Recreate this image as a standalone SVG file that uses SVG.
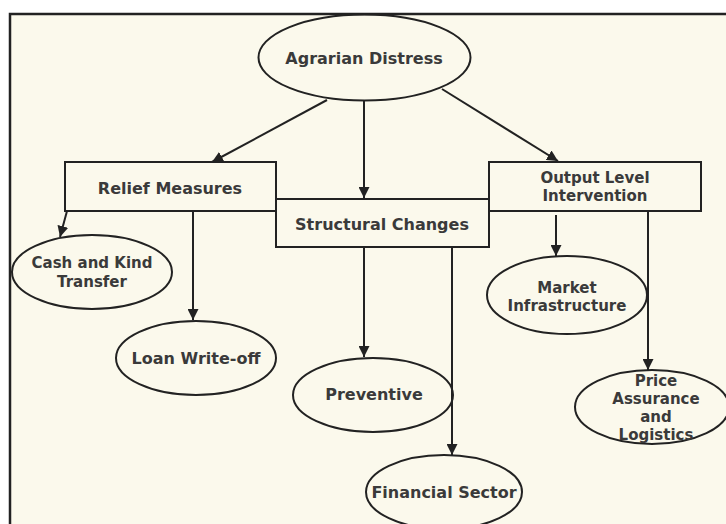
<svg xmlns="http://www.w3.org/2000/svg" width="726" height="524" viewBox="0 0 726 524">
<defs>
<style>
.shape{fill:none;stroke:#222;stroke-width:2}
.lbl{font-family:"DejaVu Sans","Liberation Sans",sans-serif;font-size:16px;fill:#3a3a3a;text-anchor:middle;font-weight:600}
.ml{font-size:15px}
.conn{stroke:#222;stroke-width:2;fill:none;marker-end:url(#ah)}
</style>
<marker id="ah" viewBox="0 0 10 10" refX="10" refY="5" markerWidth="5.5" markerHeight="5.5" orient="auto" markerUnits="strokeWidth">
<path d="M0,0 L10,5 L0,10 Z" fill="#222"/>
</marker>
</defs>
<rect x="0" y="0" width="726" height="524" fill="#ffffff"/>
<rect x="10" y="14" width="730" height="520" fill="#fbf9ec" stroke="#222" stroke-width="2.5"/>
<g id="connectors">
<line class="conn" x1="327" y1="100" x2="212" y2="162"/>
<line class="conn" x1="364" y1="100" x2="364" y2="198"/>
<line class="conn" x1="442" y1="89" x2="558" y2="161"/>
<path class="conn" d="M67,211 L60,237"/>
<line class="conn" x1="193" y1="211" x2="193" y2="320"/>
<line class="conn" x1="364" y1="247" x2="364" y2="357"/>
<line class="conn" x1="452" y1="247" x2="452" y2="455"/>
<line class="conn" x1="556" y1="215" x2="556" y2="256"/>
<line class="conn" x1="648" y1="211" x2="648" y2="370"/>
</g>
<g id="agrarian">
<ellipse class="shape" cx="364.5" cy="57.5" rx="106" ry="43" fill="#fbf9ec"/>
<text class="lbl" x="364" y="64">Agrarian Distress</text>
</g>
<g id="relief">
<rect class="shape" x="65" y="162" width="211" height="49"/>
<text class="lbl" x="170" y="194">Relief Measures</text>
</g>
<g id="structural">
<rect class="shape" x="276" y="199" width="213" height="48"/>
<text class="lbl" x="382" y="230">Structural Changes</text>
</g>
<g id="output">
<rect class="shape" x="489" y="162" width="212" height="49"/>
<text class="lbl ml" x="595" y="183">Output Level</text>
<text class="lbl ml" x="595" y="201">Intervention</text>
</g>
<g id="cash">
<ellipse class="shape" cx="92" cy="272" rx="80" ry="37"/>
<text class="lbl ml" x="92" y="268">Cash and Kind</text>
<text class="lbl ml" x="92" y="287">Transfer</text>
</g>
<g id="loan">
<ellipse class="shape" cx="196" cy="358" rx="80" ry="37"/>
<text class="lbl" x="196" y="364">Loan Write-off</text>
</g>
<g id="preventive">
<ellipse class="shape" cx="373" cy="395" rx="80" ry="37"/>
<text class="lbl" x="374" y="400">Preventive</text>
</g>
<g id="financial">
<ellipse class="shape" cx="444" cy="492" rx="78" ry="37"/>
<text class="lbl" x="444" y="498">Financial Sector</text>
</g>
<g id="market">
<ellipse class="shape" cx="567" cy="295" rx="80" ry="39"/>
<text class="lbl ml" x="567" y="293">Market</text>
<text class="lbl ml" x="567" y="311">Infrastructure</text>
</g>
<g id="price">
<ellipse class="shape" cx="652" cy="407" rx="77" ry="37"/>
<text class="lbl ml" x="656" y="386">Price</text>
<text class="lbl ml" x="656" y="404">Assurance</text>
<text class="lbl ml" x="656" y="422">and</text>
<text class="lbl ml" x="656" y="440">Logistics</text>
</g>
</svg>
